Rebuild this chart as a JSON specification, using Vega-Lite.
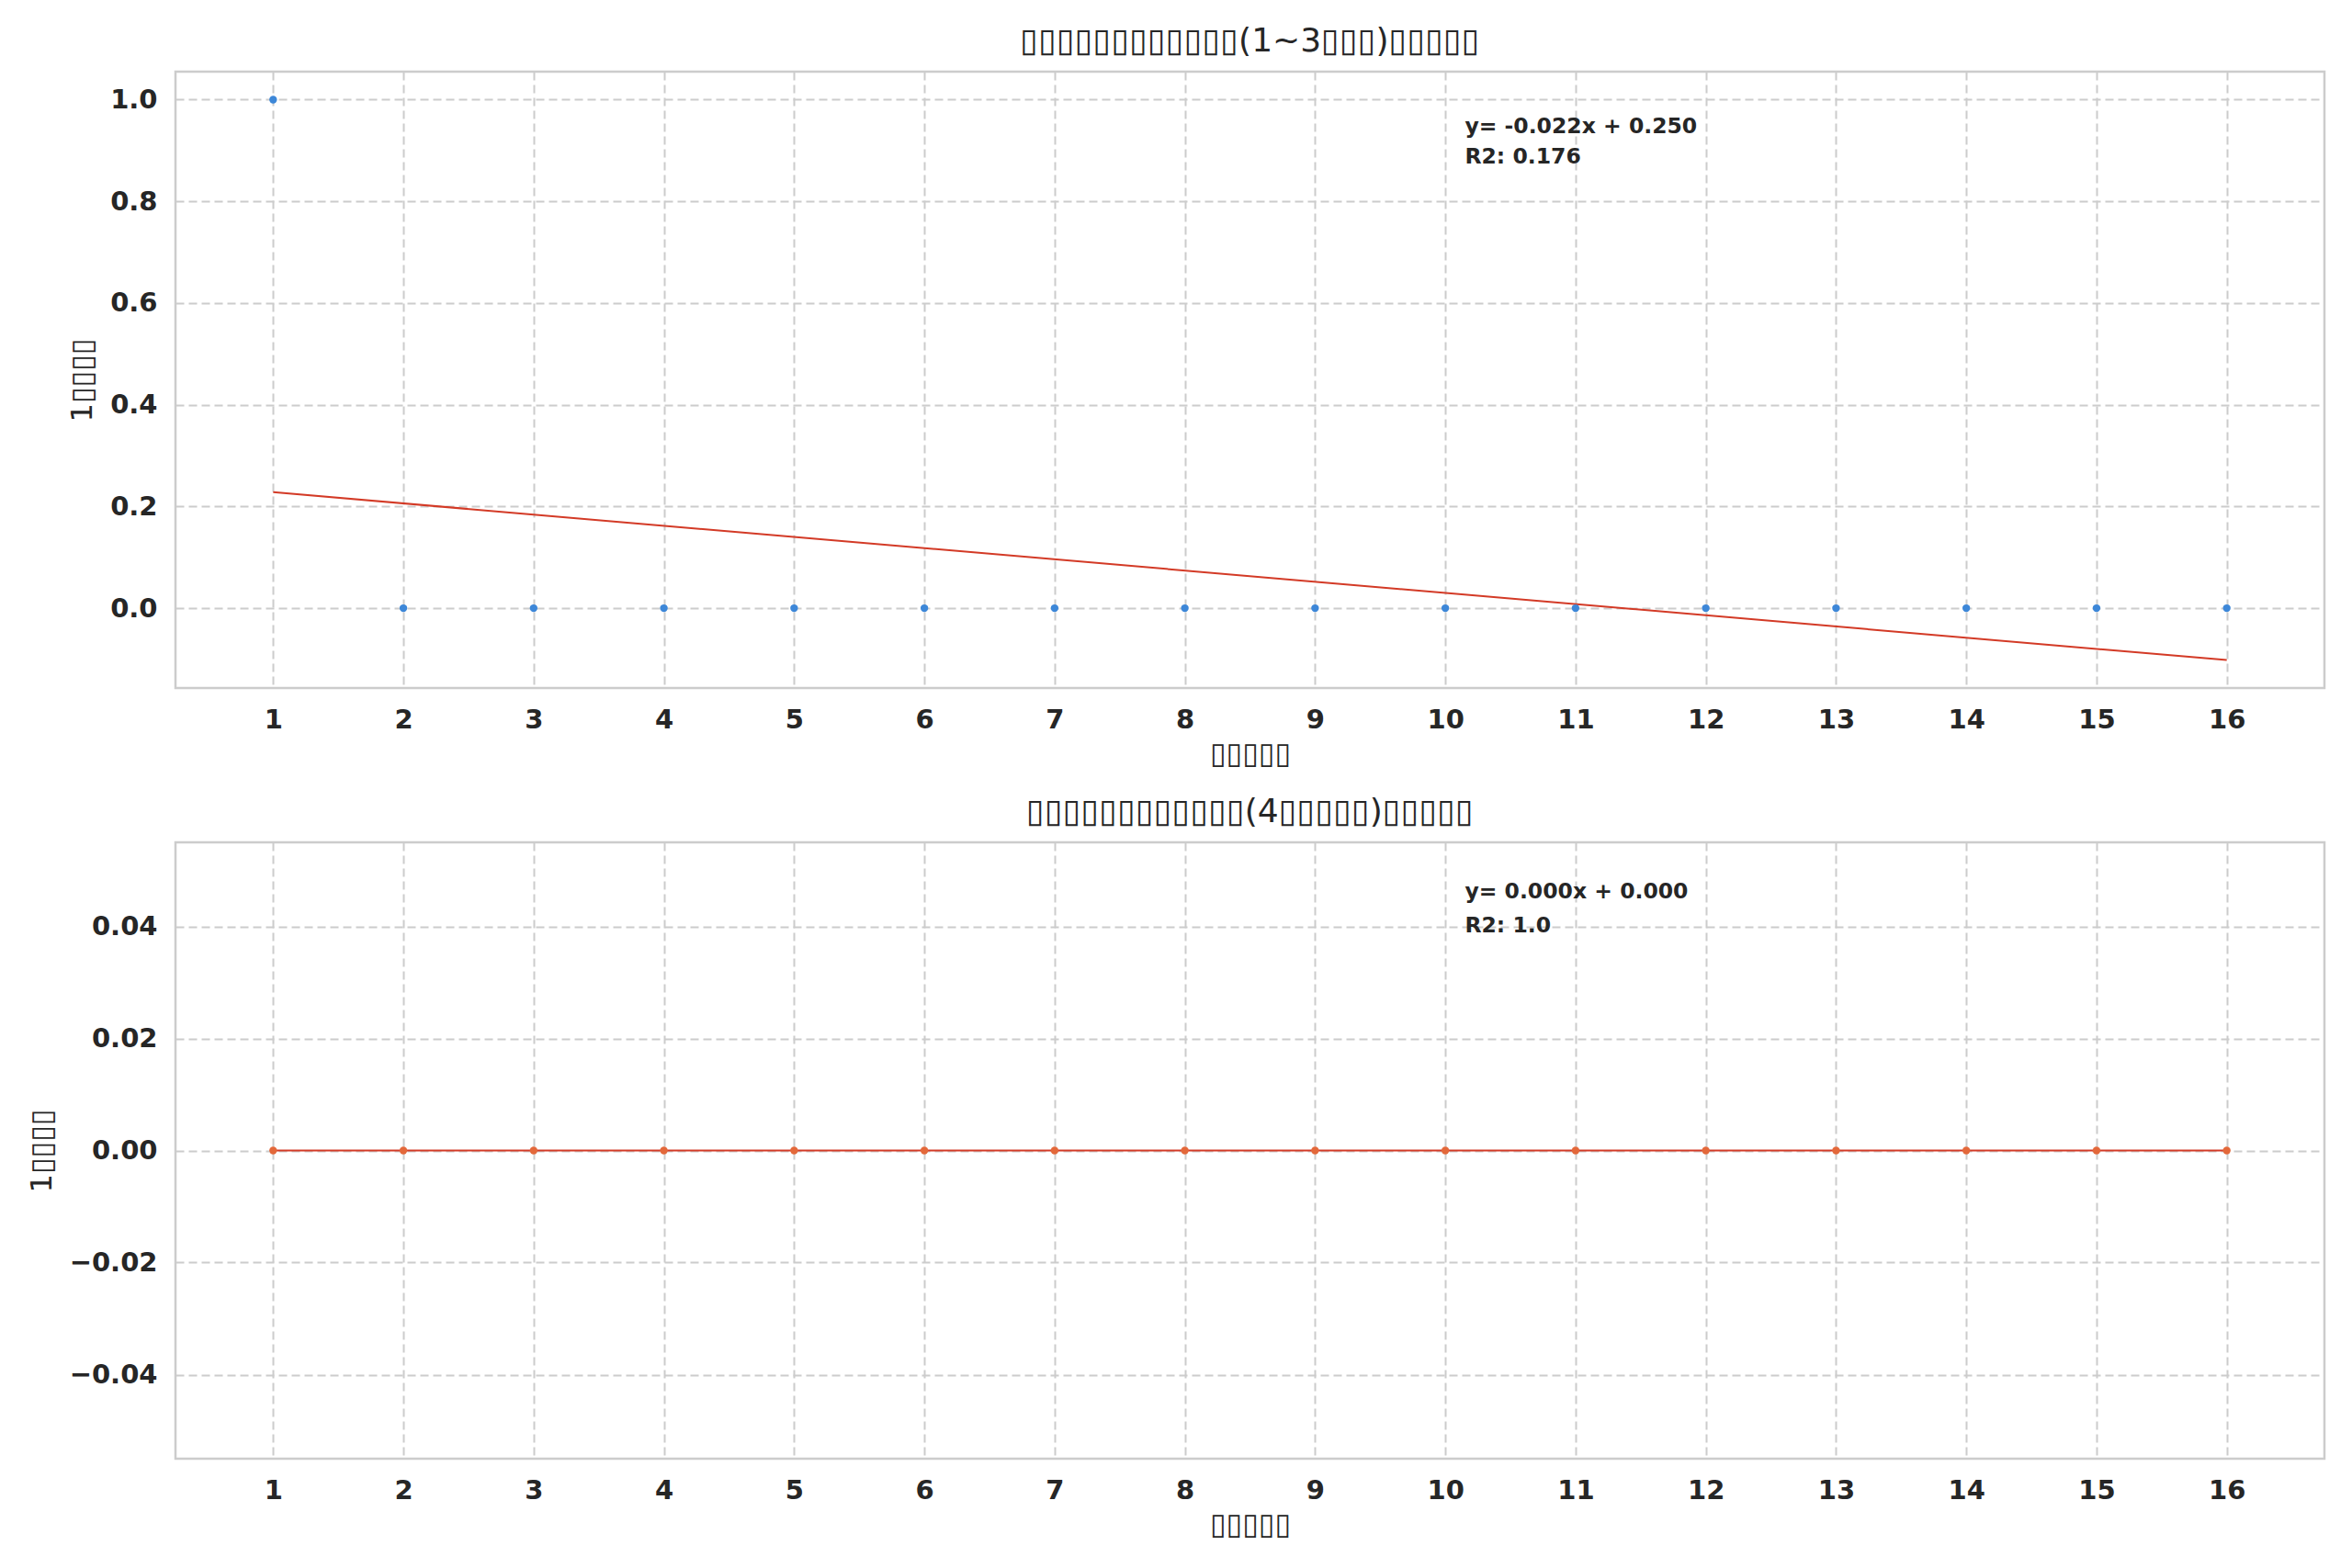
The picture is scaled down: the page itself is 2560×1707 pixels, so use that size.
{
  "$schema": "https://vega.github.io/schema/vega-lite/v6.json",
  "background": "white",
  "padding": {"left": 27, "top": 25, "right": 30, "bottom": 10},
  "spacing": 26,
  "config": {
    "font": "DejaVu Sans",
    "view": {"stroke": "#cccccc", "strokeWidth": 2.5},
    "title": {"font": "DejaVu Sans", "fontSize": 36, "fontWeight": "normal", "color": "#262626", "offset": 14},
    "axis": {
      "domain": false,
      "ticks": false,
      "grid": true,
      "gridColor": "#cccccc",
      "gridDash": [9, 5],
      "gridWidth": 2,
      "labelFont": "DejaVu Sans",
      "labelFontSize": 29,
      "labelFontWeight": "bold",
      "labelColor": "#262626",
      "labelPadding": 20,
      "titleFont": "DejaVu Sans",
      "titleFontSize": 32,
      "titleFontWeight": "normal",
      "titleColor": "#262626",
      "titlePadding": 7
    },
    "axisY": {"titlePadding": 13}
  },
  "datasets": {
    "pts1": [
      {"week": 1, "rate": 1.0}, {"week": 2, "rate": 0.0}, {"week": 3, "rate": 0.0}, {"week": 4, "rate": 0.0},
      {"week": 5, "rate": 0.0}, {"week": 6, "rate": 0.0}, {"week": 7, "rate": 0.0}, {"week": 8, "rate": 0.0},
      {"week": 9, "rate": 0.0}, {"week": 10, "rate": 0.0}, {"week": 11, "rate": 0.0}, {"week": 12, "rate": 0.0},
      {"week": 13, "rate": 0.0}, {"week": 14, "rate": 0.0}, {"week": 15, "rate": 0.0}, {"week": 16, "rate": 0.0}
    ],
    "fit1": [{"week": 1, "rate": 0.228}, {"week": 16, "rate": -0.102}],
    "note1": [
      {"week": 10.15, "rate": 0.947, "label": "y= -0.022x + 0.250"},
      {"week": 10.15, "rate": 0.887, "label": "R2: 0.176"}
    ],
    "pts2": [
      {"week": 1, "rate": 0.0}, {"week": 2, "rate": 0.0}, {"week": 3, "rate": 0.0}, {"week": 4, "rate": 0.0},
      {"week": 5, "rate": 0.0}, {"week": 6, "rate": 0.0}, {"week": 7, "rate": 0.0}, {"week": 8, "rate": 0.0},
      {"week": 9, "rate": 0.0}, {"week": 10, "rate": 0.0}, {"week": 11, "rate": 0.0}, {"week": 12, "rate": 0.0},
      {"week": 13, "rate": 0.0}, {"week": 14, "rate": 0.0}, {"week": 15, "rate": 0.0}, {"week": 16, "rate": 0.0}
    ],
    "fit2": [{"week": 1, "rate": 0.0}, {"week": 16, "rate": 0.0}],
    "note2": [
      {"week": 10.15, "rate": 0.0461, "label": "y= 0.000x + 0.000"},
      {"week": 10.15, "rate": 0.0401, "label": "R2: 1.0"}
    ]
  },
  "vconcat": [
    {
      "title": "▯▯▯▯▯▯▯▯▯▯▯▯(1~3▯▯▯)▯▯▯▯▯",
      "width": 2339,
      "height": 671,
      "encoding": {
        "x": {
          "field": "week", "type": "quantitative", "title": "▯▯▯▯▯",
          "scale": {"domain": [0.25, 16.75], "nice": false, "zero": false},
          "axis": {"values": [1, 2, 3, 4, 5, 6, 7, 8, 9, 10, 11, 12, 13, 14, 15, 16], "format": "d"}
        },
        "y": {
          "field": "rate", "type": "quantitative", "title": "1▯▯▯▯",
          "scale": {"domain": [-0.157, 1.055], "nice": false, "zero": false},
          "axis": {"values": [0, 0.2, 0.4, 0.6, 0.8, 1.0], "format": ".1f"}
        }
      },
      "layer": [
        {"data": {"name": "fit1"}, "mark": {"type": "line", "color": "#d33a26", "strokeWidth": 2}},
        {"data": {"name": "pts1"}, "mark": {"type": "circle", "color": "#3d87d8", "size": 70, "opacity": 1}},
        {
          "data": {"name": "note1"},
          "mark": {"type": "text", "align": "left", "baseline": "middle", "fontSize": 23.5, "fontWeight": "bold", "color": "#262626"},
          "encoding": {"text": {"field": "label"}}
        }
      ]
    },
    {
      "title": "▯▯▯▯▯▯▯▯▯▯▯▯(4▯▯▯▯▯)▯▯▯▯▯",
      "width": 2339,
      "height": 671,
      "encoding": {
        "x": {
          "field": "week", "type": "quantitative", "title": "▯▯▯▯▯",
          "scale": {"domain": [0.25, 16.75], "nice": false, "zero": false},
          "axis": {"values": [1, 2, 3, 4, 5, 6, 7, 8, 9, 10, 11, 12, 13, 14, 15, 16], "format": "d"}
        },
        "y": {
          "field": "rate", "type": "quantitative", "title": "1▯▯▯▯",
          "scale": {"domain": [-0.055, 0.055], "nice": false, "zero": false},
          "axis": {"values": [-0.04, -0.02, 0, 0.02, 0.04], "format": ".2f"}
        }
      },
      "layer": [
        {"data": {"name": "fit2"}, "mark": {"type": "line", "color": "#d33a26", "strokeWidth": 2}},
        {"data": {"name": "pts2"}, "mark": {"type": "circle", "color": "#e3683a", "size": 70, "opacity": 1}},
        {
          "data": {"name": "note2"},
          "mark": {"type": "text", "align": "left", "baseline": "middle", "fontSize": 23.5, "fontWeight": "bold", "color": "#262626"},
          "encoding": {"text": {"field": "label"}}
        }
      ]
    }
  ]
}
